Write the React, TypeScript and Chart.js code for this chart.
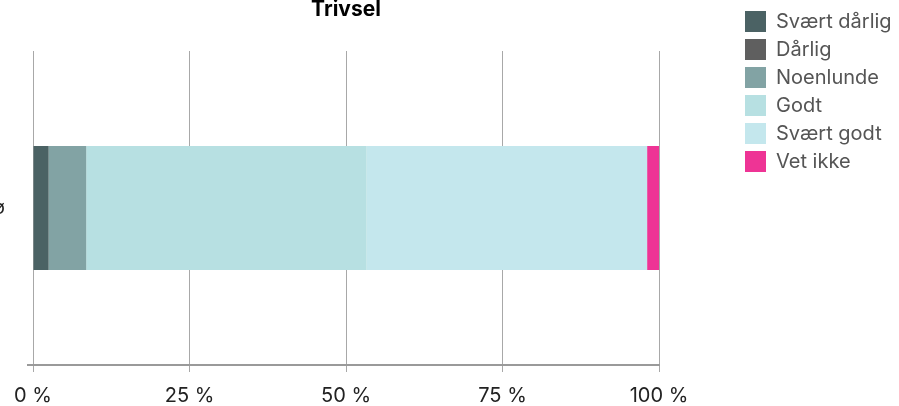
import React, { useEffect, useRef } from "react";
import { Chart, registerables } from "chart.js";

Chart.register(...registerables);

const categories = ["Miljø"];
const seriesNames = ["Svært dårlig", "Dårlig", "Noenlunde", "Godt", "Svært godt", "Vet ikke"];
const svaertDarlig = [2.5];
const darlig = [0];
const noenlunde = [6.0];
const godt = [44.8];
const svaertGodt = [44.8];
const vetIkke = [1.9];
const seriesColors = ["#4b6264", "#5f5f5f", "#82a3a4", "#b7e0e2", "#c4e7ed", "#ee3495"];
const xTickMin = 0;
const xTickMax = 100;
const xTickStep = 25;
const title = "Trivsel";

const FONT = "Inter, 'Noto Sans', sans-serif";

export default function App() {
  const ref = useRef<HTMLCanvasElement | null>(null);

  useEffect(() => {
    if (!ref.current) return;
    const values = [svaertDarlig, darlig, noenlunde, godt, svaertGodt, vetIkke];
    const legendWidthPlugin = {
      id: "legendWidthFix",
      afterInit(chart: any) {
        const lg = chart.legend;
        if (lg) {
          const orig = lg.fit.bind(lg);
          lg.fit = () => {
            orig();
            lg.width = 161;
          };
        }
      },
    };
    const chart = new Chart(ref.current, {
      type: "bar",
      data: {
        labels: categories,
        datasets: seriesNames.map((name, i) => ({
          label: name,
          data: values[i],
          backgroundColor: seriesColors[i],
          borderWidth: 0,
          barPercentage: 0.395,
          categoryPercentage: 1,
        })),
      },
      options: {
        indexAxis: "y",
        animation: false,
        responsive: true,
        maintainAspectRatio: false,
        layout: { padding: 0 },
        scales: {
          x: {
            stacked: true,
            min: xTickMin,
            max: xTickMax,
            ticks: {
              stepSize: xTickStep,
              padding: 12,
              color: "#222",
              font: { family: FONT, size: 20 },
              callback: (v: any) => v + " %",
            },
            grid: { color: "#a8a8a8", lineWidth: 1, drawTicks: true, tickLength: 7 },
            border: { display: true, color: "#9a9a9a", width: 2 },
            afterFit: (s: any) => {
              s.height = 41;
            },
          },
          y: {
            stacked: true,
            ticks: {
              padding: 22,
              color: "#222",
              font: { family: FONT, size: 19 },
            },
            grid: {
              drawOnChartArea: false,
              drawTicks: true,
              tickLength: 6,
              lineWidth: 2,
              color: (c: any) => (c.type === "tick" ? "rgba(0,0,0,0)" : "#9a9a9a"),
            },
            border: { display: false },
            afterFit: (s: any) => {
              s.width = 93;
            },
          },
          y2: {
            type: "linear",
            position: "right",
            display: true,
            ticks: { display: false },
            grid: { display: false },
            border: { display: false },
            afterFit: (s: any) => {
              s.width = 79;
            },
          },
        },
        plugins: {
          title: {
            display: true,
            text: title,
            fullSize: false,
            color: "#000",
            font: { family: FONT, size: 21, weight: "bold", lineHeight: 1 },
            padding: { top: -1, bottom: 31 },
          },
          legend: {
            position: "right",
            align: "start",
            title: { display: true, text: " ", font: { size: 4, lineHeight: 1 }, padding: 0 },
            labels: {
              boxWidth: 21,
              boxHeight: 21,
              padding: 7,
              color: "#555",
              font: { family: FONT, size: 20 },
            },
          },
          tooltip: { enabled: false },
        },
      },
      plugins: [legendWidthPlugin],
    } as any);
    return () => chart.destroy();
  }, []);

  return (
    <div style={{ position: "absolute", left: 0, top: 0, width: 899, height: 406, overflow: "hidden", background: "#fff" }}>
      <div style={{ position: "absolute", left: -60, top: 0, width: 959, height: 406 }}>
        <canvas ref={ref} />
      </div>
    </div>
  );
}
